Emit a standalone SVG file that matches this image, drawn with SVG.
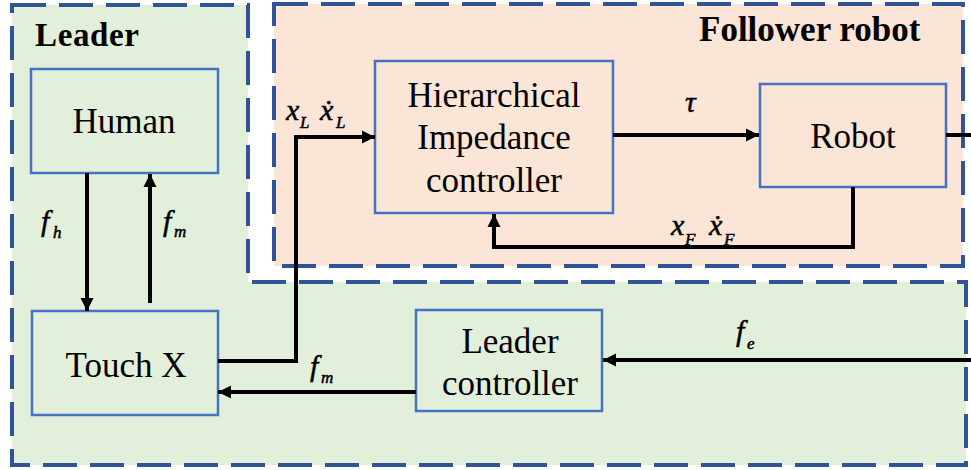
<svg xmlns="http://www.w3.org/2000/svg" width="971" height="470" viewBox="0 0 971 470">
<defs>
<style>
.region{stroke:#2F5597;stroke-width:4;stroke-dasharray:34 13}
.lead{fill:#E2EFDA}
.foll{fill:#FBE5D6}
.box{fill:none;stroke:#4472C4;stroke-width:2.5}
.lbl{font-family:"Liberation Serif","Times New Roman",serif;font-size:35px;text-anchor:middle;fill:#000}
.title{font-family:"Liberation Serif","Times New Roman",serif;font-weight:bold;fill:#000}
.m{font-family:"Liberation Serif","Times New Roman",serif;font-style:italic;font-size:30px;fill:#000;stroke:#000;stroke-width:0.5}
.s{font-size:17px}
.c{fill:none;stroke:#000;stroke-width:4}
</style>
<marker id="ah" markerUnits="userSpaceOnUse" markerWidth="14" markerHeight="14" refX="13" refY="7" orient="auto">
<path d="M0,0.5 L13,7 L0,13.5 z" fill="#000"/>
</marker>
</defs>
<rect width="971" height="470" fill="#fff"/>
<g id="leader-region">
<path class="region lead" d="M12,5 H248 V282 H966 V465 H12 Z"/>
<text class="title" x="35" y="46" font-size="33" textLength="104">Leader</text>
</g>
<g id="follower-region">
<path class="region foll" d="M274,4 H963 V266 H274 Z"/>
<text class="title" x="699" y="41" font-size="35">Follower robot</text>
</g>
<g id="human">
<rect class="box" x="31" y="69" width="187" height="104"/>
<text class="lbl" x="124" y="133">Human</text>
</g>
<g id="touchx">
<rect class="box" x="32" y="311" width="186" height="104"/>
<text class="lbl" x="126" y="377">Touch X</text>
</g>
<g id="leader-controller">
<rect class="box" x="416" y="310" width="186" height="101"/>
<text class="lbl" x="510" y="353">Leader</text>
<text class="lbl" x="510" y="395">controller</text>
</g>
<g id="hic">
<rect class="box" x="375" y="61" width="238" height="152"/>
<text class="lbl" x="494" y="107">Hierarchical</text>
<text class="lbl" x="494" y="149">Impedance</text>
<text class="lbl" x="494" y="192">controller</text>
</g>
<g id="robot">
<rect class="box" x="760" y="84" width="186" height="103"/>
<text class="lbl" x="853" y="148">Robot</text>
</g>
<g id="connectors">
<path class="c" d="M87,173 V311" marker-end="url(#ah)"/>
<path class="c" d="M150,303 V174" marker-end="url(#ah)"/>
<path class="c" d="M218,361 H296 V137 H375" marker-end="url(#ah)"/>
<path class="c" d="M613,135 H759" marker-end="url(#ah)"/>
<path class="c" d="M946,135 H971"/>
<path class="c" d="M853,187 V247 H494 V214" marker-end="url(#ah)"/>
<path class="c" d="M971,360 H603" marker-end="url(#ah)"/>
<path class="c" d="M416,392 H218" marker-end="url(#ah)"/>
<text class="m" x="41" y="231">f<tspan class="s" x="53" y="238">h</tspan></text>
<text class="m" x="163" y="231">f<tspan class="s" x="174" y="237">m</tspan></text>
<text class="m" x="310" y="376">f<tspan class="s" x="321" y="383">m</tspan></text>
<text class="m" x="736" y="341">f<tspan class="s" x="747" y="349">e</tspan></text>
<text class="m" x="286" y="120">x<tspan class="s" x="300" y="128">L</tspan></text>
<text class="m" x="320" y="120">ẋ<tspan class="s" x="336" y="128">L</tspan></text>
<text class="m" x="685" y="112">τ</text>
<text class="m" x="671" y="235">x<tspan class="s" x="685" y="245">F</tspan></text>
<text class="m" x="709" y="235">ẋ<tspan class="s" x="724" y="245">F</tspan></text>
</g>
</svg>
